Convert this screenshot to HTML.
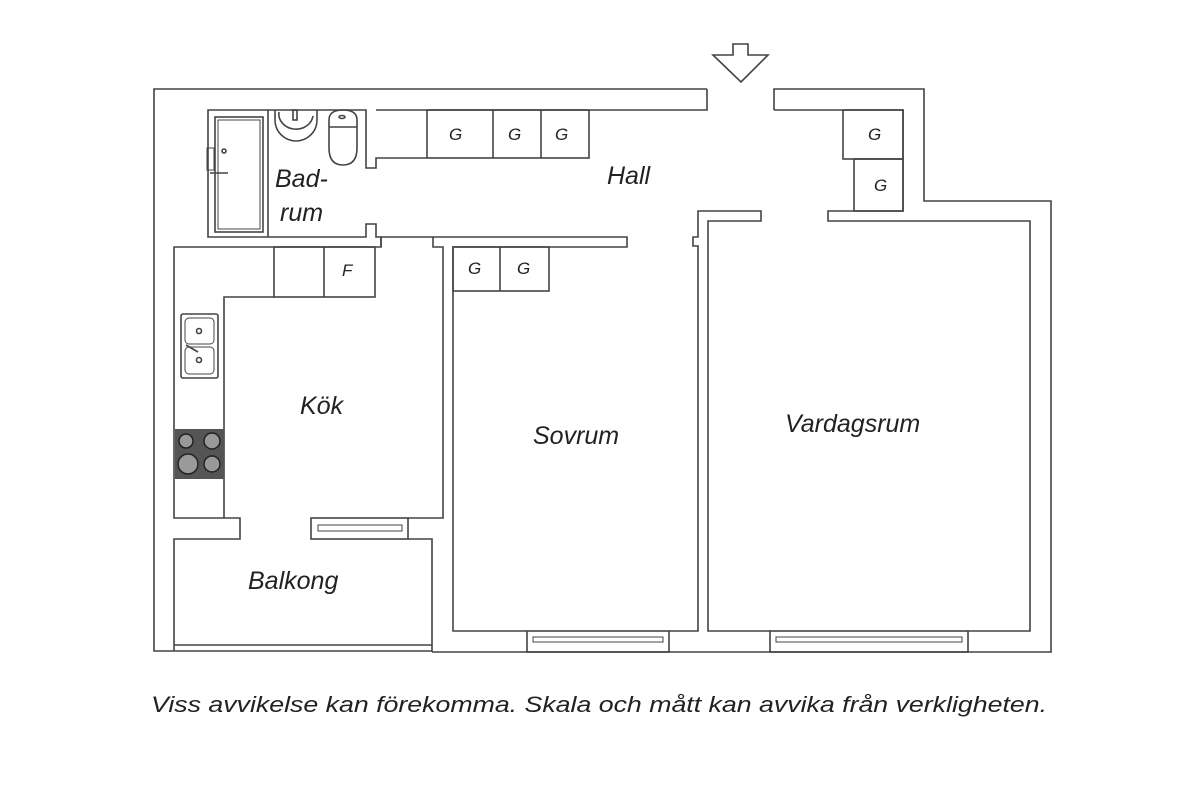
<!DOCTYPE html>
<html><head><meta charset="utf-8"><style>
html,body{margin:0;padding:0;background:#fff;}
svg{display:block;}
text{font-family:"Liberation Sans",sans-serif;font-style:italic;fill:#222;}
</style></head><body>
<svg width="1200" height="802" viewBox="0 0 1200 802" xmlns="http://www.w3.org/2000/svg">
<g fill="none" stroke="#444" stroke-width="1.6">
<!-- entrance arrow -->
<polygon points="733,44 748,44 748,55 768,55 741,82 713,55 733,55"/>
<!-- outer wall left part -->
<polyline points="707,89 154,89 154,651 432,651"/>
<polyline points="707,89 707,110 376,110"/>
<!-- outer right part -->
<polyline points="774,110 774,89 924,89 924,201 1051,201 1051,652 432,652"/>
<polyline points="774,110 903,110 903,211 828,211 828,221 1030,221 1030,631 968,631"/>
<!-- hall cabinets -->
<rect x="427" y="110" width="162" height="48"/>
<line x1="493" y1="110" x2="493" y2="158"/>
<line x1="541" y1="110" x2="541" y2="158"/>
<polyline points="427,158 376,158 376,168 366,168 366,110 208,110 208,237 366,237 366,224 376,224 376,237 381,237 381,247 174,247 174,518 240,518 240,539 174,539 174,651"/>
<!-- bathroom -->
<rect x="215" y="117" width="48" height="115"/>
<rect x="218" y="120" width="42" height="109" stroke-width="1"/>
<line x1="268" y1="110" x2="268" y2="237"/>
<path d="M275,110 v10 a21,21 0 0 0 42,0 v-10"/>
<path d="M279,112 a17,15 0 0 0 34,4"/>
<rect x="293" y="110" width="4" height="10"/>
<path d="M329,120 q0,-10 14,-10 q14,0 14,10 v28 q0,17 -14,17 q-14,0 -14,-17 z"/>
<line x1="329" y1="127" x2="357" y2="127"/>
<ellipse cx="342" cy="117" rx="3" ry="1.5"/>
<rect x="207" y="148" width="7" height="22" stroke-width="1"/>
<line x1="210" y1="173" x2="228" y2="173"/>
<circle cx="224" cy="151" r="2"/>
<!-- kitchen -->
<rect x="274" y="247" width="101" height="50"/>
<line x1="324" y1="247" x2="324" y2="297"/>
<polyline points="274,297 224,297 224,518"/>
<rect x="181" y="314" width="37" height="64" rx="2"/>
<rect x="185" y="318" width="29" height="26" rx="4" stroke-width="1"/>
<rect x="185" y="347" width="29" height="27" rx="4" stroke-width="1"/>
<circle cx="199" cy="331" r="2.5"/><circle cx="199" cy="360" r="2.5"/>
<line x1="186" y1="345" x2="198" y2="352"/>
<polyline points="381,247 381,237 627,237 627,247 453,247 453,631 527,631"/>
<polyline points="433,237 433,247 443,247 443,518 408,518"/>
<!-- balcony door -->
<rect x="311" y="518" width="97" height="21"/>
<rect x="318" y="525" width="84" height="6" stroke-width="1"/>
<polyline points="408,539 432,539 432,652"/>
<line x1="174" y1="645" x2="432" y2="645"/>
<!-- sovrum -->
<rect x="453" y="247" width="96" height="44"/>
<line x1="500" y1="247" x2="500" y2="291"/>
<polyline points="669,631 698,631 698,246 693,246 693,237 698,237 698,211 761,211 761,221 708,221 708,631 770,631"/>
<rect x="527" y="631" width="142" height="21"/>
<rect x="533" y="637" width="130" height="5" stroke-width="1"/>
<rect x="770" y="631" width="198" height="21"/>
<rect x="776" y="637" width="186" height="5" stroke-width="1"/>
<!-- right cabinets -->
<rect x="843" y="110" width="60" height="49"/>
<rect x="854" y="159" width="49" height="52"/>
</g>
<!-- stove -->
<rect x="175" y="429" width="49" height="50" fill="#555"/>
<g fill="#999" stroke="#222" stroke-width="1.5">
<circle cx="186" cy="441" r="7"/><circle cx="212" cy="441" r="8"/>
<circle cx="188" cy="464" r="10"/><circle cx="212" cy="464" r="8"/>
</g>
<g font-size="17">
<text x="449" y="140">G</text><text x="508" y="140">G</text><text x="555" y="140">G</text>
<text x="868" y="140">G</text><text x="874" y="191">G</text>
<text x="468" y="274">G</text><text x="517" y="274">G</text>
<text x="342" y="276">F</text>
</g>
<g font-size="25">
<text x="275" y="187">Bad-</text>
<text x="280" y="221">rum</text>
<text x="607" y="184">Hall</text>
<text x="300" y="414">Kök</text>
<text x="533" y="444">Sovrum</text>
<text x="785" y="432">Vardagsrum</text>
<text x="248" y="589">Balkong</text>
</g>
<text x="151" y="712" font-size="22" textLength="896" lengthAdjust="spacingAndGlyphs">Viss avvikelse kan förekomma. Skala och mått kan avvika från verkligheten.</text>
</svg>
</body></html>
